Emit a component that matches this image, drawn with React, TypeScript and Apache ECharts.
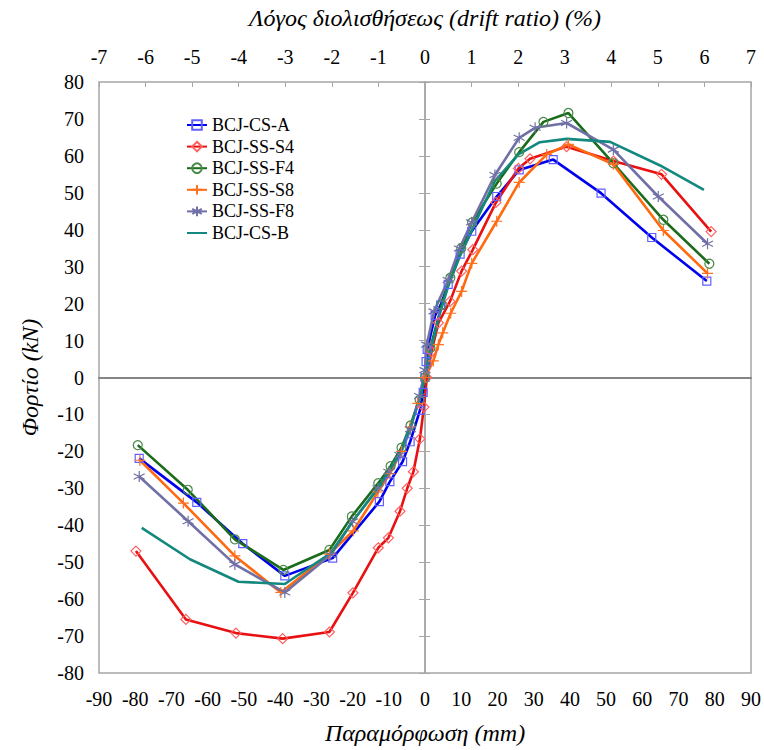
import React, { useEffect, useRef } from "react";
import * as echarts from "echarts";

const FONT = "'Liberation Serif', 'Times New Roman', serif";

const seriesNames = ["BCJ-CS-A", "BCJ-SS-S4", "BCJ-SS-F4", "BCJ-SS-S8", "BCJ-SS-F8", "BCJ-CS-B"];

const csA: number[][] = [
  [-78.9, -21.9], [-63, -33.8], [-50.3, -45], [-38.7, -53.7], [-25.5, -48.9], [-12.6, -33.6],
  [-9.7, -28.2], [-6.2, -22.8], [-4.1, -17.4], [-1.4, -8.9], [-0.5, -4], [0, 0], [0.3, 4.3],
  [0.6, 7.6], [2.8, 16.8], [4.3, 19.6], [6.4, 25.2], [9.7, 33.4], [12.9, 39.6], [19.8, 49],
  [26, 56.2], [35.4, 59], [48.6, 49.9], [62.6, 37.9], [77.8, 26.1],
];

const ssS4: number[][] = [
  [-79.8, -47], [-66, -65.5], [-52.2, -69.2], [-39.3, -70.7], [-26.4, -68.9], [-19.9, -58.3],
  [-12.9, -46.1], [-10.1, -43.4], [-6.9, -36.2], [-4.9, -30], [-3.2, -25.5], [-1.4, -16.6],
  [-0.3, -8], [0.5, 0], [1.8, 7], [3.7, 14.8], [6.9, 20.6], [10.1, 28.8], [13.2, 34.6],
  [19.6, 47.4], [25.8, 56.6], [29, 59.2], [39.1, 62.5], [52, 58.6], [65.3, 55], [79, 39.5],
];

const ssF4: number[][] = [
  [-79.3, -18.3], [-65.5, -30.4], [-52.5, -43.8], [-39.1, -52.1], [-26.4, -46.7], [-20.2, -37.6],
  [-12.9, -28.6], [-9.5, -24], [-6.5, -19], [-4, -13], [-1.5, -6], [0, 0], [1.5, 8], [4.6, 19.7],
  [7, 27], [10, 35], [13, 42], [19.8, 52.5], [26, 61], [32.7, 69.2], [39.6, 71.6], [52, 58],
  [65.8, 42.7], [78.5, 30.8],
];

const ssS8: number[][] = [
  [-78.7, -22.4], [-66.7, -34], [-52.5, -48.3], [-39.8, -58.2], [-26.4, -47.8], [-19.8, -41.5],
  [-13, -31], [-9.7, -26], [-6.5, -20], [-4.1, -13.4], [-2, -7], [0, 0], [2.3, 4.5], [3.7, 8.9],
  [4.9, 12.1], [7.1, 17.4], [10.1, 23.3], [12.9, 30.9], [19.8, 42.3], [26, 52.8], [33.6, 60.4],
  [39.6, 63.1], [52, 57.7], [65.8, 39.8], [78, 28.2],
];

const ssF8: number[][] = [
  [-78.9, -26.8], [-65.4, -38.9], [-52.5, -50.6], [-38.7, -58.2], [-26, -48], [-20, -39],
  [-13, -30], [-10, -25.5], [-6.9, -21], [-4, -14], [-1.5, -5], [0, 2], [0.5, 8.9], [2.5, 17.9],
  [6.4, 26.4], [9.5, 34.9], [12.9, 42], [19.3, 54.8], [26, 64.9], [30.4, 67.6], [39.1, 68.9],
  [52, 61.7], [64.4, 49], [78, 36.2],
];

const csB: number[][] = [
  [-78.2, -40.7], [-64.9, -49.2], [-51.5, -55.3], [-38.7, -55.9], [-26, -47.5], [-20, -39],
  [-13, -30], [-9.7, -25], [-6.5, -19.5], [-4, -13], [-1.5, -6], [0, 0], [1.5, 7], [4, 17],
  [6.5, 25], [9.7, 33], [13, 40], [19.3, 53.2], [25.8, 60.4], [31.7, 63.7], [39.1, 64.6],
  [51.1, 63.8], [64.9, 57.4], [77, 50.8],
];

const PLUS = "path://M5,0L5,10M0,5L10,5";
const STAR = "path://M5,0L5,10M0.7,2.5L9.3,7.5M0.7,7.5L9.3,2.5";

const styles = [
  { data: csA, line: "#0000f0", mark: "#6060ff", symbol: "rect", size: 8 },
  { data: ssS4, line: "#e81010", mark: "#ff6060", symbol: "diamond", size: 10 },
  { data: ssF4, line: "#1a6b1a", mark: "#4a8a4a", symbol: "circle", size: 9 },
  { data: ssS8, line: "#ff6a10", mark: "#ff7020", symbol: PLUS, size: 11 },
  { data: ssF8, line: "#7070a6", mark: "#7070a6", symbol: STAR, size: 11 },
  { data: csB, line: "#12887e", mark: "", symbol: "none", size: 0 },
];

export default function App() {
  const ref = useRef<HTMLDivElement>(null);
  useEffect(() => {
    const chart = echarts.init(ref.current!, null, { renderer: "svg" });
    const axisGrey = "#a6a6a6";
    const label = { fontSize: 20, color: "#000", fontFamily: FONT, margin: 15 };
    const nameStyle = { fontSize: 24, fontStyle: "italic", fontFamily: FONT, color: "#000" };
    const option: any = {
      animation: false,
      backgroundColor: "#ffffff",
      textStyle: { fontFamily: FONT },
      grid: {
        left: 99, right: 12, top: 82, bottom: 73,
        show: true, borderColor: axisGrey, borderWidth: 1.5, backgroundColor: "transparent",
      },
      legend: {
        orient: "vertical",
        left: 181,
        top: 111,
        itemWidth: 20,
        itemHeight: 12,
        itemGap: 3.6,
        textStyle: { fontFamily: FONT, fontSize: 18, color: "#000" },
        data: seriesNames,
      },
      xAxis: [
        {
          type: "value", position: "bottom", min: -90, max: 90, interval: 10,
          axisLine: { show: false, onZero: false },
          axisTick: { show: false }, splitLine: { show: false },
          axisLabel: { ...label, margin: 16 },
          name: "Παραμόρφωση (mm)", nameLocation: "middle", nameGap: 48,
          nameTextStyle: nameStyle,
        },
        {
          type: "value", position: "top", min: -7, max: 7, interval: 1,
          axisLine: { show: false, onZero: false },
          axisTick: { show: true, inside: true, length: 5, lineStyle: { color: axisGrey } },
          splitLine: { show: false },
          axisLabel: label,
          name: "Λόγος διολισθήσεως (drift ratio) (%)", nameLocation: "middle", nameGap: 52,
          nameTextStyle: nameStyle,
        },
        {
          type: "value", position: "bottom", min: -90, max: 90, interval: 10,
          axisLine: { show: true, onZero: true, lineStyle: { color: "#858585", width: 2 } },
          axisTick: { show: false }, axisLabel: { show: false }, splitLine: { show: false },
        },
      ],
      yAxis: [
        {
          type: "value", position: "left", min: -80, max: 80, interval: 10,
          axisLine: { show: false, onZero: false },
          axisTick: { show: false }, splitLine: { show: false },
          axisLabel: label,
          name: "Φορτίο (kN)", nameLocation: "middle", nameGap: 57, nameRotate: 90,
          nameTextStyle: nameStyle,
        },
        {
          type: "value", position: "right", min: -80, max: 80, interval: 10,
          axisLine: { show: true, onZero: true, lineStyle: { color: axisGrey, width: 1.5 } },
          axisTick: { show: true, length: 5, lineStyle: { color: axisGrey } },
          axisLabel: { show: false }, splitLine: { show: false },
        },
        {
          type: "value", position: "left", min: -80, max: 80, interval: 10,
          axisLine: { show: true, onZero: true, lineStyle: { color: axisGrey, width: 1.5 } },
          axisTick: { show: true, length: 6, lineStyle: { color: axisGrey } },
          axisLabel: { show: false }, splitLine: { show: false },
        },
      ],
      series: styles.map((s, i) => ({
        name: seriesNames[i],
        type: "line",
        xAxisIndex: 0,
        yAxisIndex: 0,
        data: s.data,
        symbol: s.symbol,
        symbolSize: s.size,
        showSymbol: s.symbol !== "none",
        lineStyle: { color: s.line, width: 2.6 },
        itemStyle: s.mark
          ? { color: "rgba(255,255,255,0)", borderColor: s.mark, borderWidth: 1.2 }
          : { color: "rgba(255,255,255,0)", borderColor: "rgba(255,255,255,0)", borderWidth: 0 },
        emphasis: { disabled: true },
      })),
    };
    chart.setOption(option);
    return () => chart.dispose();
  }, []);
  return (
    <div
      ref={ref}
      style={{ position: "fixed", left: 0, top: 0, width: 764, height: 750, background: "#fff" }}
    />
  );
}
